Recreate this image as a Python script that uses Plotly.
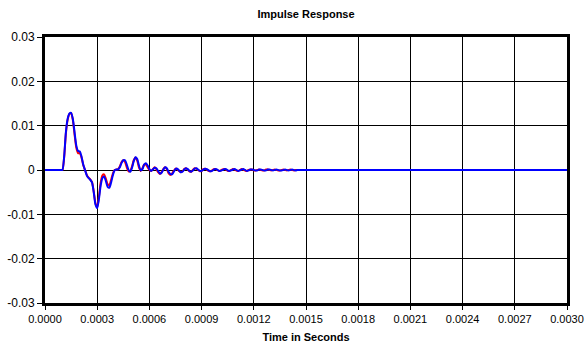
import plotly.graph_objects as go

# sample index step (seconds)
DT = 1e-5

# Blue trace values, samples 0..160 (10 us apart), then tail to 0.0030
blue_vals = [
    0, 0, 0, 0, 0, 0, 0, 0, 0, 0,
    0, 0.0030, 0.0085, 0.0115, 0.0127, 0.0129, 0.0115, 0.0085, 0.0055, 0.0043,
    0.0042, 0.0030, 0.0012, 0.0000, -0.0012, -0.0018, -0.0022, -0.0028, -0.0050, -0.0078,
    -0.0086, -0.0065, -0.0035, -0.0018, -0.0015, -0.0025, -0.0038, -0.0040, -0.0028, -0.0012,
    -0.0001, 0.0001, 0.0001, 0.0006, 0.0016, 0.0022, 0.0022, 0.0012, 0.0000, -0.0004,
    0.0005, 0.0020, 0.0029, 0.0025, 0.0010, -0.0001, 0.0002, 0.0012, 0.0015, 0.0010,
    0.0002, -0.0002, 0.0001, 0.0005, 0.0004, -0.0002, -0.0008, -0.0006, 0.0001, 0.0006,
    0.0004, -0.0004, -0.0009, -0.0010, -0.0004, 0.0002, 0.0003, -0.0001, -0.0005, -0.0004,
    0.0001, 0.0004, 0.0002, -0.0002, -0.0004, -0.0001, 0.0003, 0.0004, 0.0001, -0.0002,
    -0.0002, 0.0001, 0.0003, 0.0002, -0.0001, -0.0003, -0.0002, 0.0001, 0.0002, 0.0001,
    -0.0002, -0.0002, 0.0000, 0.0002, 0.0002, -0.0001, -0.0002, -0.0001, 0.0001, 0.0002,
    0.0000, -0.0002, -0.0001, 0.0001, 0.0002, 0.0000, -0.0002, -0.0001, 0.0001, 0.0001,
    0.0000, -0.0001, -0.0001, 0.0001, 0.0001, 0.0000, -0.0001, -0.0001, 0.0001, 0.0001,
    0.0000, -0.0001, 0.0000, 0.0001, 0.0000, -0.0001, -0.0001, 0.0000, 0.0001, 0.0000,
    -0.0001, 0.0000, 0.0001, 0.0000, -0.0001, 0.0000, 0.0000, 0.0000, 0.0000, 0.0000,
    0.0000, 0.0000, 0.0000, 0.0000, 0.0000, 0.0000, 0.0000, 0.0000, 0.0000, 0.0000,
    0.0000,
]

# Red trace values, same sampling
red_vals = [
    0, 0, 0, 0, 0, 0, 0, 0, 0, 0,
    0, 0.0028, 0.0082, 0.0113, 0.0126, 0.0128, 0.0113, 0.0080, 0.0050, 0.0038,
    0.0038, 0.0028, 0.0011, 0.0000, -0.0011, -0.0017, -0.0021, -0.0027, -0.0048, -0.0075,
    -0.0084, -0.0060, -0.0028, -0.0012, -0.0010, -0.0020, -0.0032, -0.0034, -0.0022, -0.0008,
    0.0000, 0.0001, 0.0002, 0.0008, 0.0018, 0.0022, 0.0018, 0.0006, -0.0003, -0.0002,
    0.0008, 0.0022, 0.0028, 0.0021, 0.0006, -0.0002, 0.0004, 0.0012, 0.0012, 0.0006,
    0.0000, -0.0002, 0.0002, 0.0006, 0.0002, -0.0005, -0.0009, -0.0005, 0.0002, 0.0006,
    0.0002, -0.0007, -0.0011, -0.0008, -0.0002, 0.0003, 0.0002, -0.0002, -0.0005, -0.0003,
    0.0002, 0.0004, 0.0001, -0.0003, -0.0004, 0.0000, 0.0004, 0.0003, 0.0000, -0.0003,
    -0.0002, 0.0002, 0.0003, 0.0001, -0.0002, -0.0003, -0.0001, 0.0002, 0.0002, 0.0000,
    -0.0002, -0.0001, 0.0001, 0.0002, 0.0001, -0.0002, -0.0002, 0.0000, 0.0002, 0.0001,
    -0.0001, -0.0002, 0.0000, 0.0002, 0.0001, -0.0001, -0.0002, 0.0000, 0.0001, 0.0001,
    -0.0001, -0.0001, 0.0000, 0.0001, 0.0000, -0.0001, -0.0001, 0.0001, 0.0001, 0.0000,
    -0.0001, 0.0000, 0.0001, 0.0000, -0.0001, -0.0001, 0.0000, 0.0001, 0.0000, -0.0001,
    0.0000, 0.0001, 0.0000, -0.0001, 0.0000, 0.0000, 0.0000, 0.0000, 0.0000, 0.0000,
    0.0000, 0.0000, 0.0000, 0.0000, 0.0000, 0.0000, 0.0000, 0.0000, 0.0000, 0.0000,
    0.0000,
]

tail_time = [0.0030]
tail_value = [0.0]

x_tick_vals = [0.0, 0.0003, 0.0006, 0.0009, 0.0012, 0.0015, 0.0018, 0.0021, 0.0024, 0.0027, 0.0030]
x_tick_text = ["0.0000", "0.0003", "0.0006", "0.0009", "0.0012", "0.0015",
               "0.0018", "0.0021", "0.0024", "0.0027", "0.0030"]
y_tick_vals = [0.03, 0.02, 0.01, 0.0, -0.01, -0.02, -0.03]
y_tick_text = ["0.03", "0.02", "0.01", "0", "-0.01", "-0.02", "-0.03"]

t_blue = [i * DT for i in range(len(blue_vals))] + tail_time
y_blue = blue_vals + tail_value
t_red = [i * DT for i in range(len(red_vals))] + tail_time
y_red = red_vals + tail_value

FONT = "Liberation Sans, Arial, sans-serif"

fig = go.Figure()
fig.add_trace(go.Scatter(x=t_red, y=y_red, mode="lines",
                         line=dict(color="#FF0000", width=2, shape="spline", smoothing=0.6),
                         showlegend=False, hoverinfo="skip"))
fig.add_trace(go.Scatter(x=t_blue, y=y_blue, mode="lines",
                         line=dict(color="#0000FF", width=2, shape="spline", smoothing=0.6),
                         showlegend=False, hoverinfo="skip"))

fig.update_layout(
    width=588, height=345,
    margin=dict(l=45, r=21, t=37, b=42, autoexpand=False),
    paper_bgcolor="white", plot_bgcolor="white",
    font=dict(family=FONT, size=11, color="black"),
    title=dict(text="<b>Impulse Response</b>", x=(45 + 567) / 2 / 588, xanchor="center",
               y=1 - 14 / 345, yanchor="middle", font=dict(size=11, family=FONT)),
    xaxis=dict(
        range=[0, 0.003], tickvals=x_tick_vals, ticktext=x_tick_text,
        showgrid=True, gridcolor="black", gridwidth=1,
        showline=True, linecolor="black", linewidth=3, mirror=True,
        ticks="outside", ticklen=4, tickcolor="black",
        zeroline=False,
        title=dict(text="<b>Time in Seconds</b>", font=dict(size=11, family=FONT), standoff=10),
        tickfont=dict(size=11, family=FONT),
    ),
    yaxis=dict(
        range=[-0.03, 0.03], tickvals=y_tick_vals, ticktext=y_tick_text,
        showgrid=True, gridcolor="black", gridwidth=1,
        showline=True, linecolor="black", linewidth=3, mirror=True,
        ticks="outside", ticklen=5, tickcolor="black",
        zeroline=False,
        tickfont=dict(size=12, family=FONT),
    ),
)

fig.write_html("out.html", config={"displayModeBar": False},
               post_script="document.body.style.margin='0';")
